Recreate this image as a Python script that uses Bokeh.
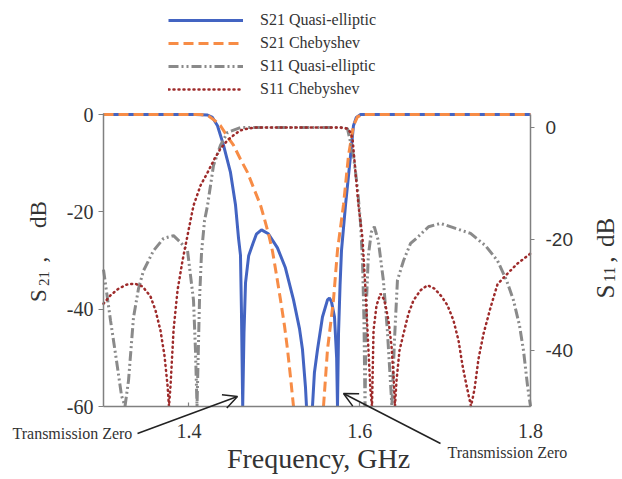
import math
from bokeh.plotting import figure
from bokeh.models import (Range1d, LinearAxis, FixedTicker, Legend, LegendItem,
                          Label, Arrow, OpenHead)
from bokeh.embed import file_html
from bokeh.resources import INLINE

NaN = float("nan")

# ---------------- data ----------------
f_s21_qe = [1.300, 1.350, 1.4077, 1.4218, 1.4276, 1.4335, 1.4405, 1.4487, 1.4546, 1.4581,
            1.4604, 1.4615, 1.4630, 1.4645, 1.4663, 1.4700, 1.4750, 1.4790, 1.4850, 1.4930,
            1.5037, 1.5130, 1.5225, 1.5295, 1.5330, 1.5365, 1.5377, 1.5410, 1.5447, 1.5470,
            1.5506, 1.5564, 1.5623, 1.5646, 1.5670, 1.5705, 1.5730, 1.5740, 1.5752, 1.5770,
            1.5787, 1.5834, 1.5893, 1.5927, 1.5960, 1.6010, 1.7000, 1.8000]
s21_qe = [0.0, 0.0, 0.0, -0.1, -0.6, -2.3, -6.3, -11.9, -18.6, -25.4,
          -28.9, -40.0, -60.0, -45.0, -34.6, -29.0, -26.5, -24.6, -23.7, -24.5,
          -27.4, -31.5, -38.1, -44.0, -48.3, -56.0, -60.0, NaN, -60.0, -53.0,
          -48.3, -41.6, -38.1, -37.7, -38.5, -41.6, -50.0, -60.0, -45.0, -35.0,
          -27.9, -18.6, -8.4, -2.3, -0.6, 0.0, 0.0, 0.0]

f_s21_ch = [1.300, 1.350, 1.4136, 1.4230, 1.4300, 1.4370, 1.4450, 1.4522, 1.4604, 1.4686,
            1.4756, 1.4838, 1.4885, 1.4932, 1.4979, 1.5026, 1.5073, 1.5120, 1.5155, 1.5190,
            1.5225, 1.5400, 1.5576, 1.5623, 1.5693, 1.5740, 1.5810, 1.5869, 1.5927,
            1.5974, 1.6033, 1.7000, 1.8000]
s21_ch = [0.0, 0.0, 0.0, -0.3, -1.2, -2.3, -4.5, -6.3, -9.2, -11.9,
          -15.0, -18.6, -21.5, -24.5, -28.1, -33.0, -38.1, -43.5, -48.3, -54.0,
          -60.0, NaN, -60.0, -48.3, -38.1, -27.9, -18.6, -8.4, -2.3,
          -0.5, 0.0, 0.0, 0.0]

f_s11_qe = [1.3000, 1.3082, 1.3152, 1.3211, 1.3252, 1.3293, 1.3351, 1.3410, 1.3468, 1.3585,
            1.3703, 1.3820, 1.3902, 1.3984, 1.4054, 1.4077, 1.4095, 1.4124, 1.4148, 1.4183,
            1.4218, 1.4288, 1.4370, 1.4452, 1.4604, 1.5000, 1.5775, 1.5857, 1.5927, 1.5974,
            1.6009, 1.6033, 1.6050, 1.6062, 1.6080, 1.6101, 1.6136, 1.6171, 1.6218, 1.6277,
            1.6324, 1.6359, 1.6377, 1.6407, 1.6442, 1.6513, 1.6595, 1.6677, 1.6806, 1.6946,
            1.7122, 1.7298, 1.7473, 1.7614, 1.7719, 1.7801, 1.7871, 1.7918, 1.7965, 1.8000]
s11_qe = [-25.5, -34.6, -41.8, -48.1, -50.0, -45.4, -34.1, -28.9, -25.7, -22.1,
          -19.9, -19.4, -20.6, -22.1, -31.0, -40.0, -50.0, -31.0, -22.4, -16.7,
          -14.0, -6.8, -3.2, -0.9, 0.0, 0.0, 0.0, -0.2, -5.0, -10.9,
          -17.0, -23.9, -34.6, -50.0, -31.0, -23.0, -18.8, -17.8, -20.3, -27.4,
          -36.4, -45.4, -50.0, -38.2, -27.4, -23.9, -20.8, -19.7, -17.8, -17.2,
          -18.1, -19.0, -21.2, -23.9, -27.4, -31.0, -35.5, -40.0, -46.3, -50.0]

f_s11_ch = [1.3000, 1.3082, 1.3176, 1.3269, 1.3363, 1.3457, 1.3550, 1.3609, 1.3667, 1.3714,
            1.3750, 1.3767, 1.3785, 1.3820, 1.3867, 1.3925, 1.3995, 1.4054, 1.4136, 1.4218,
            1.4300, 1.4370, 1.4452, 1.4522, 1.4604, 1.4686, 1.4779, 1.5775, 1.5857, 1.5893,
            1.5916, 1.5951, 1.5986, 1.6033, 1.6068, 1.6103, 1.6126, 1.6144, 1.6162, 1.6197,
            1.6244, 1.6290, 1.6337, 1.6372, 1.6396, 1.6413, 1.6431, 1.6466, 1.6513, 1.6571,
            1.6630, 1.6712, 1.6794, 1.6876, 1.6958, 1.7028, 1.7098, 1.7157, 1.7204, 1.7251,
            1.7303, 1.7344, 1.7391, 1.7450, 1.7532, 1.7614, 1.7731, 1.7848, 1.8000]
s11_ch = [-31.6, -30.1, -28.9, -28.2, -28.0, -28.5, -30.3, -32.8, -36.4, -40.9,
          -46.3, -50.0, -46.3, -36.4, -29.2, -23.9, -18.5, -14.0, -10.4, -8.1,
          -5.6, -3.8, -2.3, -1.4, -0.5, -0.2, 0.0, 0.0, -0.2, -0.9,
          -2.0, -8.1, -14.0, -19.9, -29.2, -40.0, -47.2, -50.0, -36.4, -31.9,
          -29.8, -31.0, -34.6, -39.1, -44.5, -50.0, -45.4, -40.0, -37.0, -33.4,
          -31.0, -29.2, -28.3, -28.9, -30.3, -31.9, -34.6, -38.2, -42.7, -46.3,
          -50.0, -47.0, -41.5, -37.0, -32.3, -28.1, -26.2, -24.4, -22.6]

series_names = ["S21 Quasi-elliptic", "S21 Chebyshev", "S11 Quasi-elliptic", "S11 Chebyshev"]
x_ticks = [1.4, 1.6, 1.8]
x_tick_labels = ["1.4", "1.6", "1.8"]
left_ticks = [0, -20, -40, -60]
left_tick_labels = ["0", "-20", "-40", "-60"]
right_ticks = [0, -20, -40]
right_tick_labels = ["0", "-20", "-40"]

# ---------------- layout: frame = whole canvas, axes at fixed locations ----------------
W, H = 622, 479
PX_L, PX_R = 103, 530          # x of 1.3 GHz and 1.8 GHz
PY_L0, PY_L60 = 114, 406       # y of S21 = 0 and -60 dB
PY_R0, PY_R40 = 127, 350       # y of S11 = 0 and -40 dB
X0, X1, YB = 1.3, 1.8, -60.0

kx = (PX_R - PX_L) / (X1 - X0)
kyl = (PY_L60 - PY_L0) / 60.0
kyr = (PY_R40 - PY_R0) / 40.0

xr = Range1d(X0 - PX_L / kx, X1 + (W - PX_R) / kx)
yl = Range1d(-60.0 - (H - PY_L60) / kyl, PY_L0 / kyl)
yr = Range1d(-(H - PY_R0) / kyr, PY_R0 / kyr)

p = figure(width=W, height=H, x_range=xr, y_range=yl,
           output_backend="svg", toolbar_location=None,
           x_axis_location=None, y_axis_location=None, min_border=0)
p.extra_y_ranges = {"s11": yr}
p.xgrid.visible = False
p.ygrid.visible = False
p.outline_line_color = None
p.background_fill_color = "white"
p.border_fill_color = "white"

AX = "#808080"
TXT = "#333333"
SERIF = "Liberation Serif"


def style(ax, font, size, t_in, t_out, standoff):
    ax.major_label_text_font = font
    ax.major_label_text_font_size = size
    ax.major_label_text_color = TXT
    ax.major_tick_in = t_in
    ax.major_tick_out = t_out
    ax.minor_tick_line_color = None
    ax.axis_line_color = AX
    ax.axis_line_width = 1.5
    ax.major_tick_line_color = AX
    ax.major_tick_line_width = 1.2
    ax.major_label_standoff = standoff


xa = LinearAxis(ticker=FixedTicker(ticks=x_ticks), fixed_location=YB, bounds=(X0, X1))
xa.major_label_overrides = dict(zip(x_ticks, x_tick_labels))
style(xa, SERIF, "20px", 4, 0, 17)
p.add_layout(xa, "below")

ya = LinearAxis(ticker=FixedTicker(ticks=left_ticks), fixed_location=X0, bounds=(-60, 0.3))
ya.major_label_overrides = dict(zip(left_ticks, left_tick_labels))
style(ya, SERIF, "20px", 0, 5, 5)
p.add_layout(ya, "left")

ra = LinearAxis(y_range_name="s11", ticker=FixedTicker(ticks=right_ticks),
                fixed_location=X1, bounds=(-50, 2.4))
ra.major_label_overrides = dict(zip(right_ticks, right_tick_labels))
style(ra, "Liberation Sans", "19px", 0, 4, 11)
p.add_layout(ra, "right")

r1 = p.line(f_s21_qe, s21_qe, line_color="#4364c2", line_width=3)
r2 = p.line(f_s21_ch, s21_ch, line_color="#f78c46", line_width=3, line_dash="10 5")
r3 = p.line(f_s11_qe, s11_qe, line_color="#8a8a8a", line_width=3, line_dash="10 3 2 3 2 3",
            y_range_name="s11")
r4 = p.line(f_s11_ch, s11_ch, line_color="#9e2b2b", line_width=2.5, line_dash="1 4",
            line_cap="round", y_range_name="s11")

legend = Legend(items=[LegendItem(label=n, renderers=[r]) for n, r in
                       zip(series_names, [r1, r2, r3, r4])],
                location=(168, 380), padding=0, margin=0, spacing=3,
                glyph_width=75, glyph_height=20, label_height=20, label_standoff=17,
                label_text_font=SERIF, label_text_font_size="16px",
                label_text_color=TXT, border_line_alpha=0, background_fill_alpha=0)
p.add_layout(legend, "center")


# ---------------- page-pixel placement helpers for annotations ----------------
def dx(px):
    return X0 + (px - PX_L) / kx


def dy(py):
    return -(py - PY_L0) / kyl


for txt, px, py in [("Transmission Zero", 12, 433), ("Transmission Zero", 447, 452)]:
    p.add_layout(Label(x=dx(px), y=dy(py), text=txt, text_font=SERIF, text_font_size="16px",
                       text_color=TXT, text_align="left", text_baseline="middle"))

for (sx, sy, ex, ey) in [(137, 433, 237, 396), (440, 443, 343, 393)]:
    p.add_layout(Arrow(x_start=dx(sx), y_start=dy(sy), x_end=dx(ex), y_end=dy(ey),
                       line_color="#222222", line_width=1.5,
                       end=OpenHead(size=14, line_color="#222222", line_width=1.5)))

p.add_layout(Label(x=dx(318), y=dy(458), text="Frequency, GHz", text_font=SERIF,
                   text_font_size="28px", text_color=TXT, text_align="center",
                   text_baseline="middle"))


def rot_label(base_px, parts):
    # parts: (text, center_py, font_px, baseline_shift_px), reading bottom to top
    for t, c, fs, sh in parts:
        p.add_layout(Label(x=dx(base_px + sh), y=dy(c), text=t, text_font=SERIF,
                           text_font_size=f"{fs}px", text_color=TXT, angle=math.pi / 2,
                           text_align="center", text_baseline="alphabetic"))


rot_label(38, [("S", 295, 23, 0), ("21", 278, 15, 5), (",", 259, 23, 0), ("dB", 214, 23, 0)])
rot_label(605, [("S", 291, 25, 0), ("11", 274, 16, 4), (",", 259, 25, 0), ("dB", 232, 25, 0)])

open("out.html", "w").write(file_html(p, INLINE))
